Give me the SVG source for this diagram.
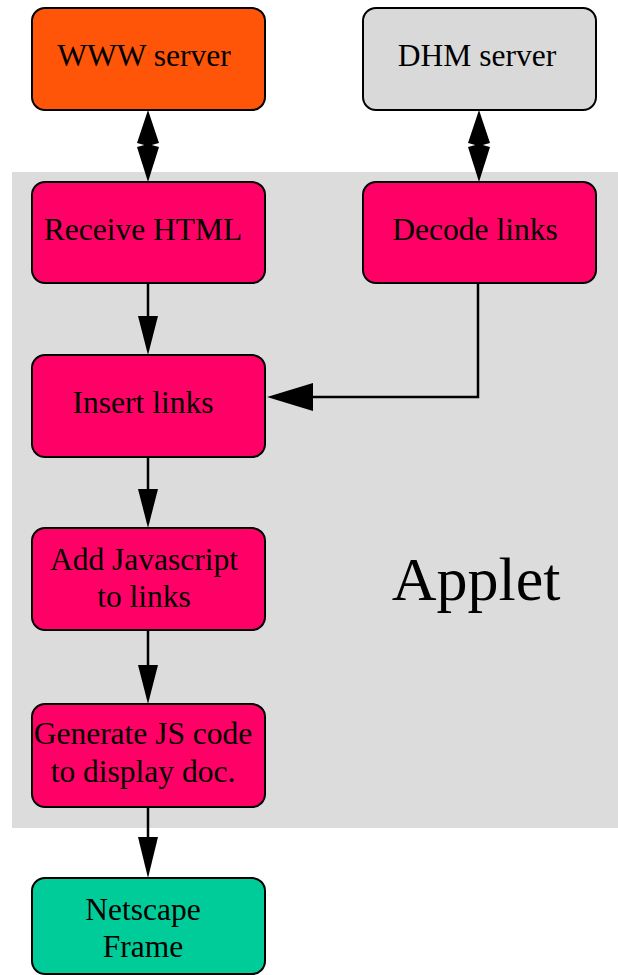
<svg xmlns="http://www.w3.org/2000/svg" width="618" height="975" viewBox="0 0 618 975">
  <style>
    .box { stroke: #000; stroke-width: 2; }
    .www { fill: #FF5508; }
    .dhm { fill: #D9D9D9; }
    .step { fill: #FF0066; }
    .out { fill: #00CC99; }
    .lbl { font-family: "Liberation Serif", "Times New Roman", serif; font-size: 31.5px; fill: #000; text-anchor: middle; }
    .edge { stroke: #000; stroke-width: 2.5; fill: none; }
    .head { fill: #000; stroke: none; }
  </style>

  <!-- applet region -->
  <rect x="12" y="172" width="606" height="656" fill="#DCDCDC"/>
  <text x="476" y="600" style="font-family: 'Liberation Serif', 'Times New Roman', serif; font-size: 62px; fill: #000; text-anchor: middle;">Applet</text>

  <g id="edges">
    <!-- WWW server <-> Receive HTML -->
    <line class="edge" x1="148" y1="120" x2="148" y2="172"/>
    <polygon class="head" points="148,110 159,143 148,146 137,143"/>
    <polygon class="head" points="148,182 159,147 148,144 137,147"/>
    <!-- DHM server <-> Decode links -->
    <line class="edge" x1="479" y1="120" x2="479" y2="172"/>
    <polygon class="head" points="479,110 490,143 479,146 468,143"/>
    <polygon class="head" points="479,182 490,147 479,144 468,147"/>
    <!-- Receive HTML -> Insert links -->
    <line class="edge" x1="148" y1="283" x2="148" y2="320"/>
    <polygon class="head" points="148,355 138,316 158,316"/>
    <!-- Decode links -> Insert links -->
    <polyline class="edge" points="478,283 478,397 310,397"/>
    <polygon class="head" points="267,397 313,383 313,411"/>
    <!-- Insert links -> Add Javascript -->
    <line class="edge" x1="148" y1="457" x2="148" y2="495"/>
    <polygon class="head" points="148,528 138,489 158,489"/>
    <!-- Add Javascript -> Generate JS code -->
    <line class="edge" x1="148" y1="630" x2="148" y2="670"/>
    <polygon class="head" points="148,704 138,665 158,665"/>
    <!-- Generate JS code -> Netscape Frame -->
    <line class="edge" x1="148" y1="807" x2="148" y2="842"/>
    <polygon class="head" points="148,878 138,837 158,837"/>
  </g>

  <g id="www-server">
    <rect class="box www" x="32" y="8" width="233" height="102" rx="13"/>
    <text class="lbl" x="144" y="66">WWW server</text>
  </g>
  <g id="dhm-server">
    <rect class="box dhm" x="363" y="8" width="233" height="102" rx="13"/>
    <text class="lbl" x="477" y="66">DHM server</text>
  </g>
  <g id="receive-html">
    <rect class="box step" x="32" y="182" width="233" height="101" rx="13"/>
    <text class="lbl" x="143" y="240">Receive HTML</text>
  </g>
  <g id="decode-links">
    <rect class="box step" x="363" y="182" width="233" height="101" rx="13"/>
    <text class="lbl" x="475" y="240">Decode links</text>
  </g>
  <g id="insert-links">
    <rect class="box step" x="32" y="355" width="233" height="102" rx="13"/>
    <text class="lbl" x="143" y="413">Insert links</text>
  </g>
  <g id="add-javascript">
    <rect class="box step" x="32" y="528" width="233" height="102" rx="13"/>
    <text class="lbl" x="144" y="570">Add Javascript</text>
    <text class="lbl" x="144" y="607">to links</text>
  </g>
  <g id="generate-js">
    <rect class="box step" x="32" y="704" width="233" height="103" rx="13"/>
    <text class="lbl" x="143" y="744">Generate JS code</text>
    <text class="lbl" x="143" y="782">to display doc.</text>
  </g>
  <g id="netscape-frame">
    <rect class="box out" x="32" y="878" width="233" height="96" rx="13"/>
    <text class="lbl" x="143" y="920">Netscape</text>
    <text class="lbl" x="143" y="957">Frame</text>
  </g>
</svg>
